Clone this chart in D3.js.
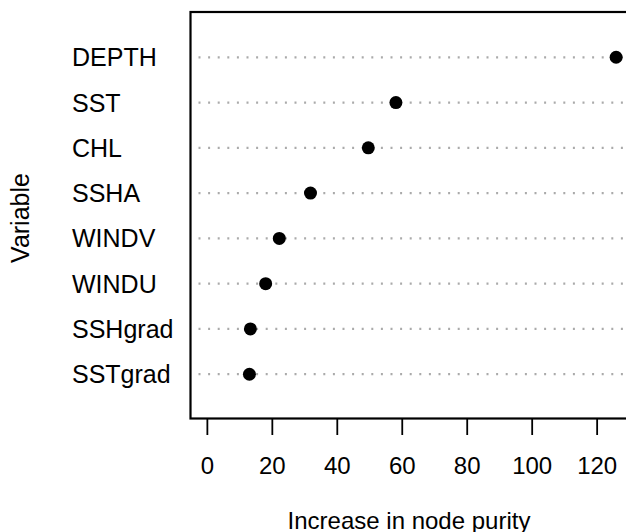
<!DOCTYPE html>
<html>
<head>
<meta charset="utf-8">
<script src="https://cdn.jsdelivr.net/npm/d3@7"></script>
<style>
  html, body { margin: 0; padding: 0; background: #fff; }
  svg { display: block; }
  text { font-family: "Liberation Sans", Arial, Helvetica, sans-serif; fill: #000; }
</style>
</head>
<body>
<script>
// Data (top-to-bottom order as shown)
const variables = ["DEPTH", "SST", "CHL", "SSHA", "WINDV", "WINDU", "SSHgrad", "SSTgrad"];
const purity = [126, 58.2, 49.7, 31.9, 22.3, 18.1, 13.4, 13.1];
const xTicks = [0, 20, 40, 60, 80, 100, 120];
const xTitle = "Increase in node purity";
const yTitle = "Variable";

const W = 626, H = 532;
const svg = d3.select("body").append("svg").attr("width", W).attr("height", H);

const pLeft = 190.5, pRight = 632.5, pTop = 12, pBottom = 419.5;
const xMax = d3.max(purity);
const pad = xMax * 0.04;
const x = d3.scaleLinear().domain([-pad, xMax + pad]).range([pLeft, pRight]);
const n = variables.length;
const y = d3.scaleLinear().domain([0, n + 1]).range([pBottom, pTop]);
const rowY = (i) => y(n - i);

// dotted guide lines
svg.append("g").selectAll("line").data(variables).join("line")
  .attr("x1", pLeft + 8).attr("x2", pRight)
  .attr("y1", (d, i) => rowY(i)).attr("y2", (d, i) => rowY(i))
  .attr("stroke", "#aaaaaa").attr("stroke-width", 2.2)
  .attr("stroke-dasharray", "2,7.6");

// points
svg.append("g").selectAll("circle").data(purity).join("circle")
  .attr("cx", d => x(d)).attr("cy", (d, i) => rowY(i)).attr("r", 6.5)
  .attr("fill", "#000");

// box
svg.append("rect")
  .attr("x", pLeft).attr("y", pTop)
  .attr("width", pRight - pLeft).attr("height", pBottom - 1 - pTop)
  .attr("fill", "none").attr("stroke", "#000").attr("stroke-width", 2.2);

// variable labels
svg.append("g").selectAll("text").data(variables).join("text")
  .attr("x", 72).attr("y", (d, i) => rowY(i) + 9)
  .attr("font-size", 25)
  .text(d => d);

// x axis ticks
const axisG = svg.append("g").attr("transform", `translate(0,${pBottom - 1})`);
const axis = d3.axisBottom(x).tickValues(xTicks).tickSize(16.5).tickPadding(22).tickFormat(d3.format("d"));
axisG.call(axis);
axisG.select(".domain").remove();
axisG.selectAll(".tick line").attr("stroke", "#000").attr("stroke-width", 1.8);
axisG.selectAll(".tick text")
  .attr("font-size", 24)
  .attr("font-family", "\"Liberation Sans\", Arial, Helvetica, sans-serif")
  .attr("fill", "#000");

// axis titles
svg.append("text")
  .attr("x", 409).attr("y", 528.5)
  .attr("text-anchor", "middle").attr("font-size", 24)
  .text(xTitle);

svg.append("text")
  .attr("transform", "translate(29,218) rotate(-90)")
  .attr("text-anchor", "middle").attr("font-size", 25)
  .text(yTitle);
</script>
</body>
</html>
